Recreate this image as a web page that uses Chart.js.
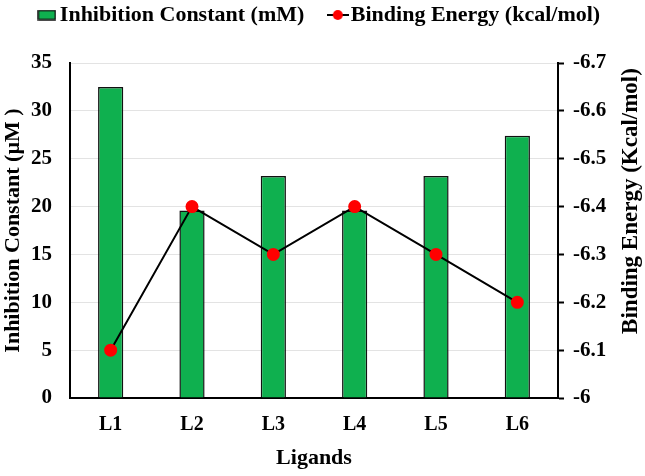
<!DOCTYPE html>
<html>
<head>
<meta charset="utf-8">
<script src="https://cdn.jsdelivr.net/npm/chart.js@4.4.1/dist/chart.umd.min.js"></script>
<style>
  body { margin: 0; background: #fff; }
  #wrap { width: 645px; height: 476px; }
</style>
</head>
<body>
<div id="wrap"><canvas id="ligandChart" width="645" height="476"></canvas></div>
<script>
// Data
const ligands = ["L1", "L2", "L3", "L4", "L5", "L6"];
const inhibitionConstant = [32.5, 19.6, 23.2, 19.6, 23.2, 27.4];
const bindingEnergy = [-6.1, -6.4, -6.3, -6.4, -6.3, -6.2];

const leftTicks = { min: 0, max: 35, step: 5 };
const rightTicks = { min: -6.7, max: -6, step: 0.1 };

const FONT = "'Liberation Serif', 'Times New Roman', serif";
const GREEN = "#0fb04f";

Chart.defaults.font.family = FONT;
Chart.defaults.font.weight = "bold";
Chart.defaults.color = "#000";

// legend markers drawn on small canvases
function barMarker() {
  const c = document.createElement("canvas");
  c.width = 19;
  c.height = 11;
  const g = c.getContext("2d");
  g.fillStyle = GREEN;
  g.fillRect(1, 1, 17, 9);
  g.strokeStyle = "#111";
  g.lineWidth = 1.5;
  g.strokeRect(1, 1, 17, 9);
  return c;
}

function lineMarker() {
  const c = document.createElement("canvas");
  c.width = 22;
  c.height = 12;
  const g = c.getContext("2d");
  g.strokeStyle = "#000";
  g.lineWidth = 2;
  g.beginPath();
  g.moveTo(0, 6);
  g.lineTo(22, 6);
  g.stroke();
  g.fillStyle = "#ff0000";
  g.beginPath();
  g.arc(11, 6, 5, 0, Math.PI * 2);
  g.fill();
  return c;
}

// right axis title reads bottom to top, so draw it here
const rightTitle = {
  id: "rightTitle",
  afterDraw(chart) {
    const ctx = chart.ctx;
    ctx.save();
    ctx.translate(631, 201);
    ctx.rotate(-Math.PI / 2);
    ctx.font = "bold 23px " + FONT;
    ctx.fillStyle = "#000";
    ctx.textAlign = "center";
    ctx.textBaseline = "middle";
    ctx.fillText("Binding Energy (Kcal/mol)", 0, 0);
    ctx.restore();
  },
};

// extra space below the legend
const legendGap = {
  id: "legendGap",
  beforeInit(chart) {
    const fit = chart.legend.fit;
    chart.legend.fit = function () {
      fit.bind(chart.legend)();
      this.height += 27;
    };
  },
};

const ctx = document.getElementById("ligandChart").getContext("2d");

new Chart(ctx, {
  type: "bar",
  data: {
    labels: ligands,
    datasets: [
      {
        type: "bar",
        label: "Inhibition Constant (mM)",
        data: inhibitionConstant,
        backgroundColor: GREEN,
        borderColor: "#111",
        borderWidth: 1.5,
        barPercentage: 0.31,
        categoryPercentage: 1,
        yAxisID: "y",
        order: 2,
      },
      {
        type: "line",
        label: "Binding Energy (kcal/mol)",
        data: bindingEnergy,
        borderColor: "#000",
        borderWidth: 2,
        pointBackgroundColor: "#ff0000",
        pointBorderColor: "#ff0000",
        pointRadius: 5.5,
        tension: 0,
        yAxisID: "y1",
        order: 1,
      },
    ],
  },
  options: {
    responsive: false,
    animation: false,
    layout: {
      padding: 0,
    },
    plugins: {
      tooltip: { enabled: false },
      legend: {
        display: true,
        position: "top",
        labels: {
          usePointStyle: true,
          pointStyleWidth: 4,
          padding: 4,
          font: { size: 22, weight: "bold" },
          generateLabels: function (chart) {
            return [
              {
                text: "Inhibition Constant (mM)     ",
                pointStyle: barMarker(),
                fontColor: "#000",
                lineWidth: 0,
                hidden: false,
                datasetIndex: 0,
              },
              {
                text: "Binding Energy (kcal/mol)",
                pointStyle: lineMarker(),
                fontColor: "#000",
                lineWidth: 0,
                hidden: false,
                datasetIndex: 1,
              },
            ];
          },
        },
      },
    },
    scales: {
      x: {
        offset: true,
        grid: { display: false, drawTicks: false },
        border: { color: "#000", width: 2 },
        ticks: { padding: 15, font: { size: 20 } },
        title: {
          display: true,
          text: "Ligands",
          font: { size: 22 },
          padding: { top: 9, bottom: 4 },
        },
        afterFit: (scale) => {
          scale.height = 78;
        },
      },
      y: {
        position: "left",
        min: leftTicks.min,
        max: leftTicks.max,
        ticks: { stepSize: leftTicks.step, padding: 18, font: { size: 21 } },
        grid: { color: "#e3e3e3", drawTicks: false },
        border: { color: "#000", width: 2 },
        title: {
          display: true,
          text: "Inhibition Constant (µM )",
          font: { size: 22, lineHeight: 1 },
          padding: { top: 2, bottom: 6 },
        },
        afterFit: (scale) => {
          scale.width = 70;
        },
      },
      y1: {
        position: "right",
        reverse: true,
        min: rightTicks.min,
        max: rightTicks.max,
        ticks: {
          stepSize: rightTicks.step,
          padding: 9,
          font: { size: 21 },
          callback: (v) => String(+v.toFixed(1)),
        },
        grid: {
          drawOnChartArea: false,
          color: "#000",
          tickLength: 6,
          tickWidth: 2,
        },
        border: { color: "#000", width: 2 },
        afterFit: (scale) => {
          scale.width = 87;
        },
      },
    },
  },
  plugins: [rightTitle, legendGap],
});
</script>
</body>
</html>
